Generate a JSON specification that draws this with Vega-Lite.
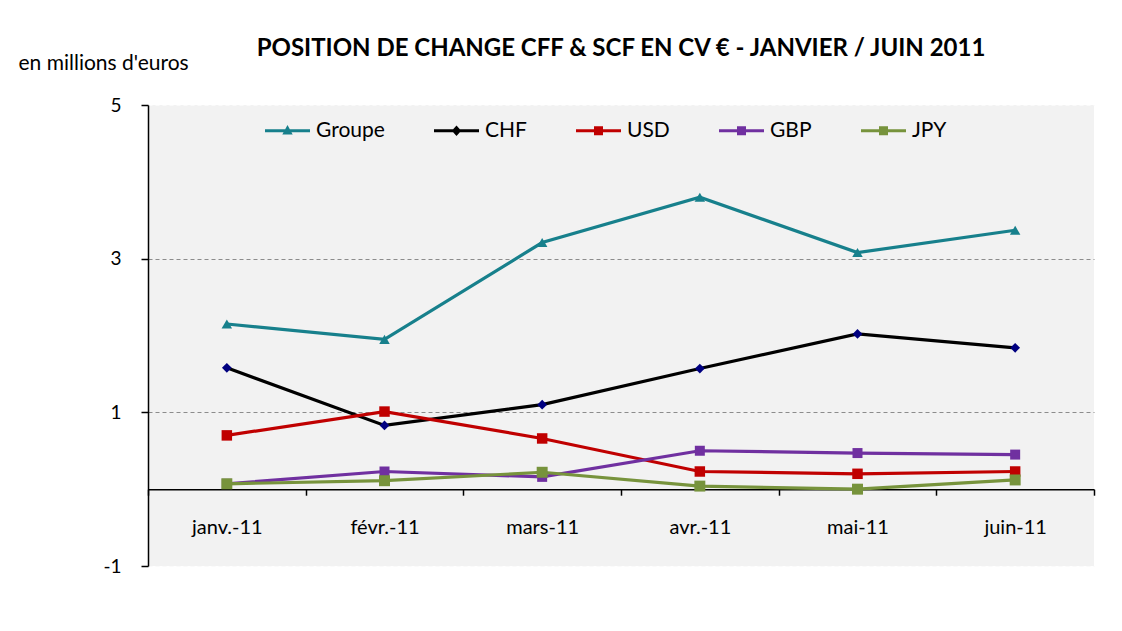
{
  "$schema": "https://vega.github.io/schema/vega-lite/v6.json",
  "width": 946,
  "height": 461,
  "autosize": {"type": "none"},
  "padding": {"left": 148, "top": 105, "right": 28, "bottom": 65},
  "background": "white",
  "title": {
    "text": "POSITION DE CHANGE CFF & SCF  EN CV € - JANVIER / JUIN 2011",
    "font": "Lato",
    "fontSize": 24,
    "fontWeight": "bold",
    "color": "black",
    "anchor": "middle",
    "frame": "group",
    "baseline": "alphabetic",
    "offset": -28
  },
  "config": {
    "font": "Lato",
    "view": {"fill": "#f2f2f2", "stroke": null}
  },
  "data": {
    "values": [
      {"mois": "janv.-11", "serie": "Groupe", "valeur": 2.15},
      {"mois": "févr.-11", "serie": "Groupe", "valeur": 1.95},
      {"mois": "mars-11", "serie": "Groupe", "valeur": 3.21},
      {"mois": "avr.-11", "serie": "Groupe", "valeur": 3.8},
      {"mois": "mai-11", "serie": "Groupe", "valeur": 3.08},
      {"mois": "juin-11", "serie": "Groupe", "valeur": 3.37},
      {"mois": "janv.-11", "serie": "CHF", "valeur": 1.58},
      {"mois": "févr.-11", "serie": "CHF", "valeur": 0.83},
      {"mois": "mars-11", "serie": "CHF", "valeur": 1.1},
      {"mois": "avr.-11", "serie": "CHF", "valeur": 1.57},
      {"mois": "mai-11", "serie": "CHF", "valeur": 2.02},
      {"mois": "juin-11", "serie": "CHF", "valeur": 1.84},
      {"mois": "janv.-11", "serie": "USD", "valeur": 0.7},
      {"mois": "févr.-11", "serie": "USD", "valeur": 1.01},
      {"mois": "mars-11", "serie": "USD", "valeur": 0.66},
      {"mois": "avr.-11", "serie": "USD", "valeur": 0.23},
      {"mois": "mai-11", "serie": "USD", "valeur": 0.2},
      {"mois": "juin-11", "serie": "USD", "valeur": 0.23},
      {"mois": "janv.-11", "serie": "GBP", "valeur": 0.07},
      {"mois": "févr.-11", "serie": "GBP", "valeur": 0.23},
      {"mois": "mars-11", "serie": "GBP", "valeur": 0.16},
      {"mois": "avr.-11", "serie": "GBP", "valeur": 0.5},
      {"mois": "mai-11", "serie": "GBP", "valeur": 0.47},
      {"mois": "juin-11", "serie": "GBP", "valeur": 0.45},
      {"mois": "janv.-11", "serie": "JPY", "valeur": 0.07},
      {"mois": "févr.-11", "serie": "JPY", "valeur": 0.11},
      {"mois": "mars-11", "serie": "JPY", "valeur": 0.22},
      {"mois": "avr.-11", "serie": "JPY", "valeur": 0.04},
      {"mois": "mai-11", "serie": "JPY", "valeur": 0.0},
      {"mois": "juin-11", "serie": "JPY", "valeur": 0.12}
    ]
  },
  "encoding": {
    "x": {
      "field": "mois",
      "type": "ordinal",
      "sort": ["janv.-11", "févr.-11", "mars-11", "avr.-11", "mai-11", "juin-11"],
      "bandPosition": 0.5,
      "scale": {"type": "band", "paddingInner": 0, "paddingOuter": 0},
      "axis": {
        "title": null,
        "orient": "bottom",
        "offset": -76.8,
        "labelAngle": 0,
        "labelFont": "Lato",
        "labelFontSize": 20,
        "labelColor": "black",
        "labelPadding": 22,
        "tickBand": "extent",
        "tickSize": 6,
        "tickColor": "black",
        "domainColor": "black",
        "domainWidth": 1.5,
        "tickWidth": 1.5,
        "grid": false
      }
    },
    "y": {
      "field": "valeur",
      "type": "quantitative",
      "scale": {"domain": [-1, 5], "nice": false, "zero": false},
      "axis": {
        "values": [-1, 1, 3, 5],
        "labelExpr": "toString(datum.value)",
        "title": "en millions d'euros",
        "titleAngle": 0,
        "titleAlign": "left",
        "titleBaseline": "alphabetic",
        "titleX": -130,
        "titleY": -36,
        "titleFont": "Lato",
        "titleFontSize": 21,
        "titleFontWeight": "normal",
        "titleColor": "black",
        "labelFont": "Lato",
        "labelFontSize": 19,
        "labelColor": "black",
        "labelPadding": 20,
        "tickSize": 7,
        "tickColor": "black",
        "tickWidth": 1.5,
        "domainColor": "black",
        "domainWidth": 1.5,
        "grid": true,
        "gridDash": [4, 3],
        "gridWidth": 1.2,
        "gridColor": {
          "condition": {"test": "datum.value === 1 || datum.value === 3", "value": "#8c8c8c"},
          "value": "#fafafa"
        }
      }
    }
  },
  "layer": [
    {
      "mark": {"type": "line", "strokeWidth": 3.2},
      "encoding": {
        "color": {
          "field": "serie",
          "type": "nominal",
          "scale": {
            "domain": ["Groupe", "CHF", "USD", "GBP", "JPY"],
            "range": ["#17808C", "#000000", "#C00000", "#7030A0", "#77933C"]
          },
          "legend": {
            "title": null,
            "orient": "none",
            "legendX": 117,
            "legendY": 3,
            "direction": "horizontal",
            "columnPadding": 49,
            "labelFont": "Lato",
            "labelFontSize": 21,
            "labelColor": "black",
            "labelOffset": 6,
            "symbolSize": 2025,
            "encode": {
              "symbols": {
                "update": {
                  "shape": {"signal": "datum.value === 'Groupe' ? 'M-1,-0.07H1V0.07H-1Z M0,-0.26L0.23,0.17H-0.23Z' : datum.value === 'CHF' ? 'M-1,-0.07H1V0.07H-1Z M0,-0.23L0.21,0L0,0.23L-0.21,0Z' : 'M-1,-0.07H1V0.07H-1Z M-0.2,-0.2H0.2V0.2H-0.2Z'"},
                  "fill": {"signal": "scale('color', datum.value)"},
                  "strokeWidth": {"value": 0},
                  "size": {"value": 2025},
                  "opacity": {"value": 1}
                }
              }
            }
          }
        }
      }
    },
    {
      "transform": [{"filter": "datum.serie === 'Groupe'"}],
      "mark": {"type": "point", "filled": true, "opacity": 1, "shape": "triangle-up", "color": "#17808C", "size": 110}
    },
    {
      "transform": [{"filter": "datum.serie === 'CHF'"}],
      "mark": {"type": "point", "filled": true, "opacity": 1, "shape": "diamond", "color": "#000080", "size": 95}
    },
    {
      "transform": [{"filter": "datum.serie === 'USD'"}],
      "mark": {"type": "point", "filled": true, "opacity": 1, "shape": "square", "color": "#C00000", "size": 110}
    },
    {
      "transform": [{"filter": "datum.serie === 'GBP'"}],
      "mark": {"type": "point", "filled": true, "opacity": 1, "shape": "square", "color": "#7030A0", "size": 100}
    },
    {
      "transform": [{"filter": "datum.serie === 'JPY'"}],
      "mark": {"type": "point", "filled": true, "opacity": 1, "shape": "square", "color": "#77933C", "size": 120}
    }
  ]
}
